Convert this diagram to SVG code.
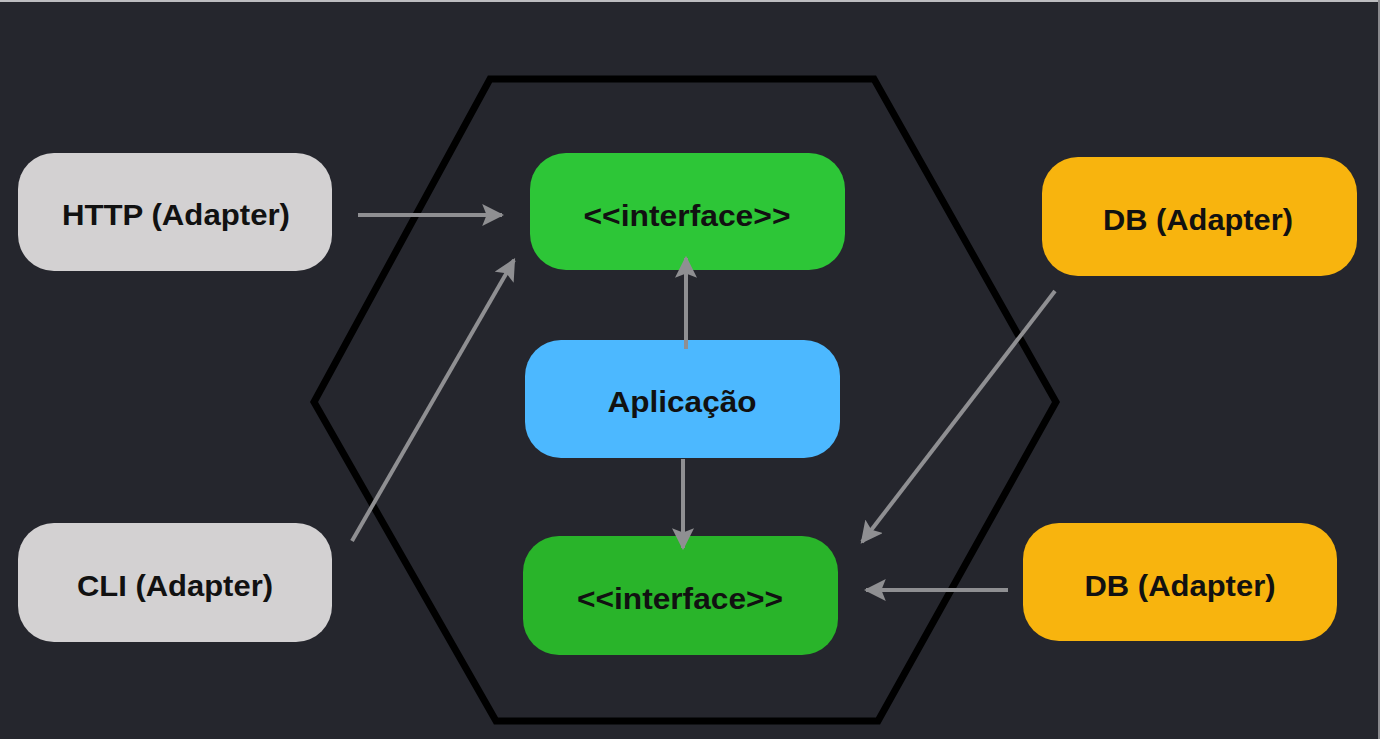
<svg xmlns="http://www.w3.org/2000/svg" width="1380" height="739" viewBox="0 0 1380 739">
<defs>
<style>
.node text{font-family:"Liberation Sans",Arial,sans-serif;font-weight:bold;font-size:30px;fill:#111;text-anchor:middle;dominant-baseline:central}
.conn line{stroke:#8f8f92;stroke-width:4;marker-end:url(#ah)}
.grey{fill:#d3d1d2}
.green{fill:#2dc637}
.green2{fill:#29b42a}
.blue{fill:#4cb8ff}
.orange{fill:#f8b40e}
</style>
<marker id="ah" viewBox="0 0 10 10" refX="9" refY="5" markerWidth="5.5" markerHeight="5.5" orient="auto" markerUnits="strokeWidth">
<path d="M0,0 L10,5 L0,10 L2,5 Z" fill="#8f8f92"/>
</marker>
</defs>
<rect width="1380" height="739" fill="#25262d"/>
<line x1="0" y1="1" x2="1380" y2="1" stroke="#bdbdc0" stroke-width="2"/>
<line x1="1379" y1="0" x2="1379" y2="739" stroke="#8a8a8e" stroke-width="2"/>
<polygon id="hexagon" points="490,79 874,79 1056,402 878,721 496,721 314,402" fill="none" stroke="#000" stroke-width="7" stroke-linejoin="miter"/>
<g id="http" class="node"><rect class="grey" x="18" y="153" width="314" height="118" rx="36"/><text x="176" y="214" textLength="228" lengthAdjust="spacingAndGlyphs">HTTP (Adapter)</text></g>
<g id="cli" class="node"><rect class="grey" x="18" y="523" width="314" height="119" rx="36"/><text x="175" y="585" textLength="196" lengthAdjust="spacingAndGlyphs">CLI (Adapter)</text></g>
<g id="interface-top" class="node"><rect class="green" x="530" y="153" width="315" height="117" rx="36"/><text x="687" y="215" textLength="207" lengthAdjust="spacingAndGlyphs">&lt;&lt;interface&gt;&gt;</text></g>
<g id="aplicacao" class="node"><rect class="blue" x="525" y="340" width="315" height="118" rx="36"/><text x="682" y="401" textLength="149" lengthAdjust="spacingAndGlyphs">Aplicação</text></g>
<g id="interface-bottom" class="node"><rect class="green2" x="523" y="536" width="315" height="119" rx="36"/><text x="680" y="598" textLength="206" lengthAdjust="spacingAndGlyphs">&lt;&lt;interface&gt;&gt;</text></g>
<g id="db-top" class="node"><rect class="orange" x="1042" y="157" width="315" height="119" rx="36"/><text x="1198" y="219" textLength="190" lengthAdjust="spacingAndGlyphs">DB (Adapter)</text></g>
<g id="db-bottom" class="node"><rect class="orange" x="1023" y="523" width="314" height="118" rx="36"/><text x="1180" y="585" textLength="191" lengthAdjust="spacingAndGlyphs">DB (Adapter)</text></g>
<g class="conn">
<line x1="358" y1="215" x2="502" y2="215"/>
<line x1="352" y1="541" x2="514" y2="260"/>
<line x1="686" y1="349" x2="686" y2="258"/>
<line x1="683" y1="459" x2="683" y2="548"/>
<line x1="1055" y1="291" x2="862" y2="542"/>
<line x1="1008" y1="590" x2="866" y2="590"/>
</g>
</svg>
